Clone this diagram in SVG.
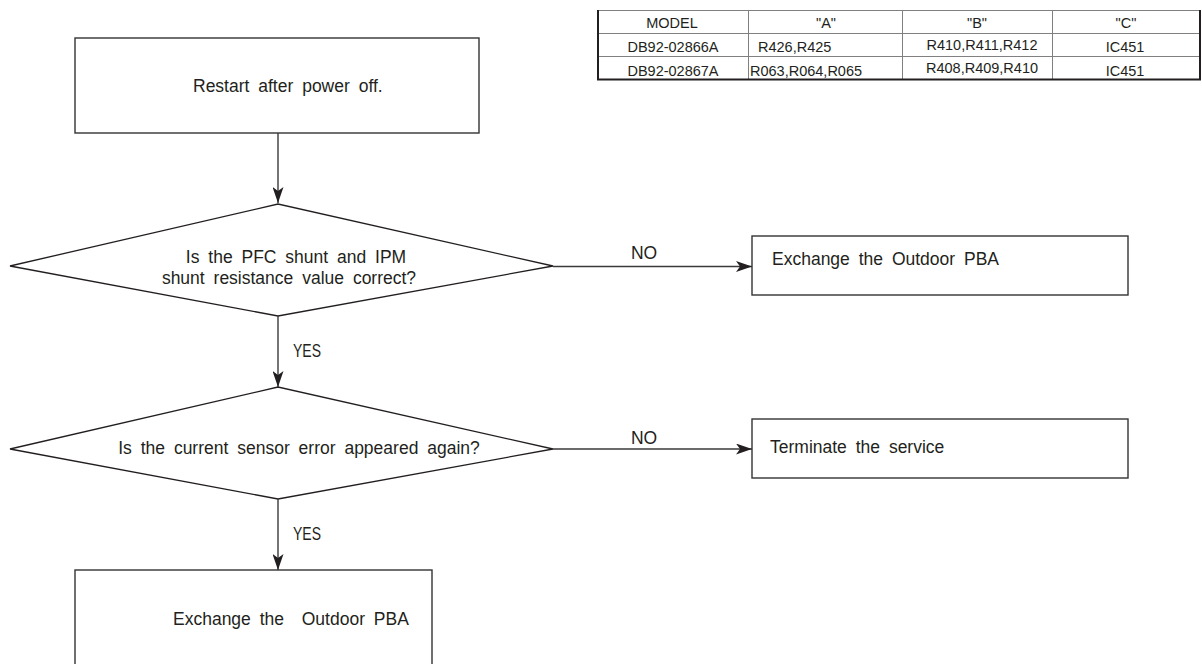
<svg xmlns="http://www.w3.org/2000/svg" width="1202" height="664" viewBox="0 0 1202 664">
<style>
.box{fill:#fff;stroke:#333;stroke-width:1.4}
.dia{fill:#fff;stroke:#231f20;stroke-width:1.3}
.con{fill:none;stroke:#3a3a3a;stroke-width:1.4}
.t{font-family:"Liberation Sans",Arial,sans-serif;font-size:17.5px;fill:#231f20;word-spacing:4px}
.lbl{font-family:"Liberation Sans",Arial,sans-serif;font-size:17.5px;fill:#231f20}
.tb{font-family:"Liberation Sans",Arial,sans-serif;font-size:14.5px;fill:#231f20;text-anchor:middle}
.grid{stroke:#808080;stroke-width:1;fill:none}
</style>
<defs>
<marker id="arr" markerUnits="userSpaceOnUse" markerWidth="16" markerHeight="11" refX="16" refY="5.5" orient="auto">
<path d="M0,0 L16,5.5 L0,11 L4,5.5 z" fill="#231f20"/>
</marker>
</defs>
<rect width="1202" height="664" fill="#fff"/>

<g id="table">
<line class="grid" x1="597" y1="10.5" x2="1201" y2="10.5"/>
<line class="grid" x1="597" y1="33.5" x2="1201" y2="33.5"/>
<line class="grid" x1="597" y1="56.5" x2="1201" y2="56.5"/>
<line class="grid" x1="748.5" y1="10" x2="748.5" y2="80"/>
<line class="grid" x1="902.5" y1="10" x2="902.5" y2="80"/>
<line class="grid" x1="1052.5" y1="10" x2="1052.5" y2="80"/>
<path d="M598,10 V79.5 H1200 V10" fill="none" stroke="#231f20" stroke-width="2"/>
<text class="tb" x="672" y="28">MODEL</text>
<text class="tb" x="826" y="28">"A"</text>
<text class="tb" x="977" y="28">"B"</text>
<text class="tb" x="1126" y="28">"C"</text>
<text class="tb" x="673" y="51.5">DB92-02866A</text>
<text class="tb" x="758" y="51.5" style="text-anchor:start">R426,R425</text>
<text class="tb" x="982" y="50">R410,R411,R412</text>
<text class="tb" x="1125" y="52">IC451</text>
<text class="tb" x="673" y="75.5">DB92-02867A</text>
<text class="tb" x="750" y="75.5" style="text-anchor:start">R063,R064,R065</text>
<text class="tb" x="982" y="72.5">R408,R409,R410</text>
<text class="tb" x="1125" y="75.5">IC451</text>
</g>

<g id="n1">
<rect class="box" x="75" y="38" width="404" height="95"/>
<text class="t" x="193" y="92">Restart after power off.</text>
</g>

<g id="d1">
<polygon class="dia" points="10,266 278,204 553,266 278,316"/>
<text class="t" x="296" y="263" text-anchor="middle">Is the PFC shunt and IPM</text>
<text class="t" x="289" y="284" text-anchor="middle">shunt resistance value correct?</text>
</g>

<g id="n2">
<rect class="box" x="752" y="236" width="376" height="59"/>
<text class="t" x="772" y="265">Exchange the Outdoor PBA</text>
</g>

<g id="d2">
<polygon class="dia" points="10,449 278,387 553,449 278,499"/>
<text class="t" x="299" y="454" text-anchor="middle">Is the current sensor error appeared again?</text>
</g>

<g id="n3">
<rect class="box" x="752" y="419" width="376" height="59"/>
<text class="t" x="770" y="453">Terminate the service</text>
</g>

<g id="n4">
<rect class="box" x="75" y="570" width="357" height="110"/>
<text class="t" x="173" y="625" xml:space="preserve">Exchange the  Outdoor PBA</text>
</g>

<g id="connectors">
<line class="con" x1="278" y1="133" x2="278" y2="203" marker-end="url(#arr)"/>
<line class="con" x1="553" y1="266.5" x2="752" y2="266.5" marker-end="url(#arr)"/>
<line class="con" x1="278" y1="316" x2="278" y2="387" marker-end="url(#arr)"/>
<line class="con" x1="553" y1="449" x2="752" y2="449" marker-end="url(#arr)"/>
<line class="con" x1="278" y1="499" x2="278" y2="570" marker-end="url(#arr)"/>
<text class="lbl" x="644" y="259" text-anchor="middle">NO</text>
<text class="lbl" x="644" y="444" text-anchor="middle">NO</text>
<text class="lbl" x="293" y="357" textLength="28" lengthAdjust="spacingAndGlyphs">YES</text>
<text class="lbl" x="293" y="540" textLength="28" lengthAdjust="spacingAndGlyphs">YES</text>
</g>
</svg>
